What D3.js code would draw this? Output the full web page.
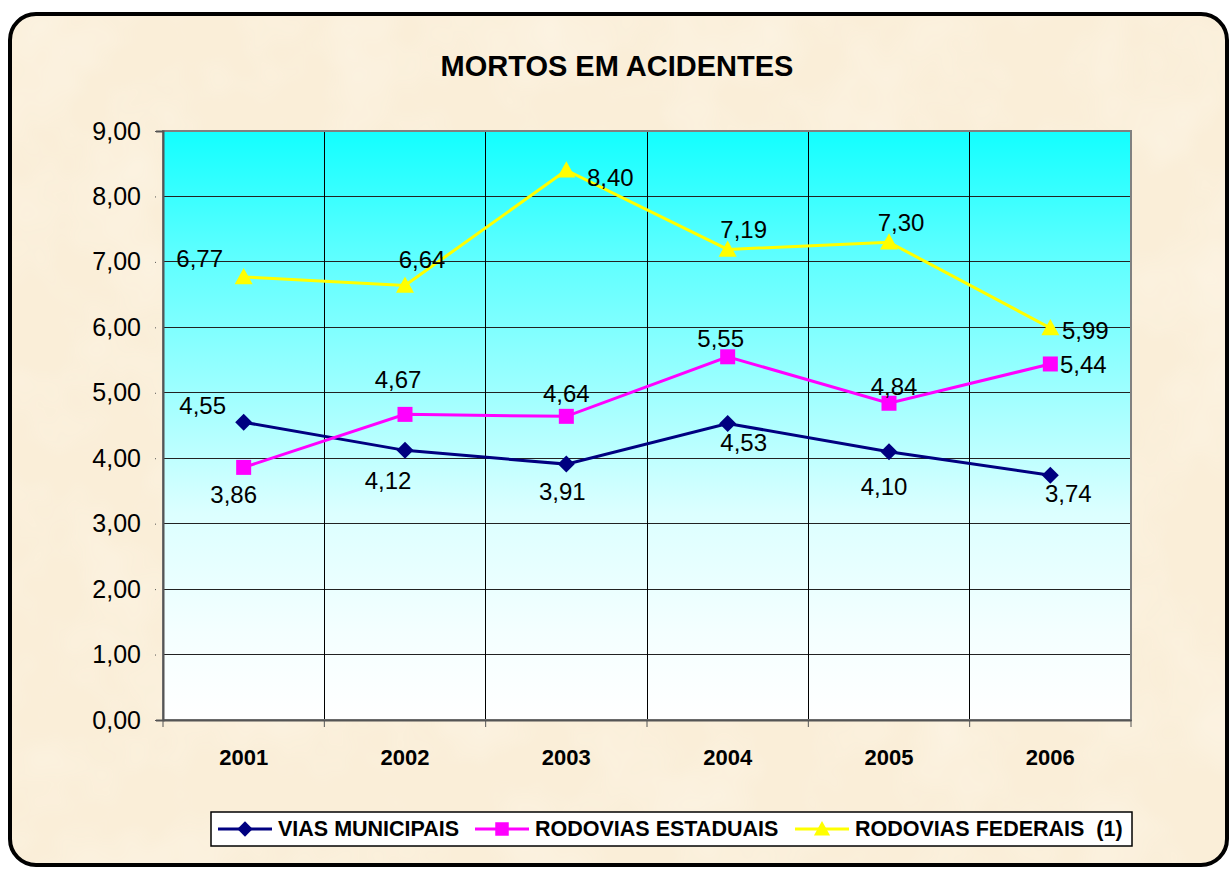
<!DOCTYPE html>
<html>
<head>
<meta charset="utf-8">
<script src="https://cdn.jsdelivr.net/npm/d3@7"></script>
<style>
  body { margin: 0; background: #fff; }
  svg { display: block; font-family: "Liberation Sans", Arial, sans-serif; }
</style>
</head>
<body>
<div id="chart"></div>
<script>
var width = 1232, height = 869

var years = ['2001', '2002', '2003', '2004', '2005', '2006']
var yTicks = [0, 1, 2, 3, 4, 5, 6, 7, 8, 9]
var seriesNames = ['VIAS MUNICIPAIS', 'RODOVIAS ESTADUAIS', 'RODOVIAS FEDERAIS  (1)']
var viasMunicipais = [4.55, 4.12, 3.91, 4.53, 4.10, 3.74]
var rodoviasEstaduais = [3.86, 4.67, 4.64, 5.55, 4.84, 5.44]
var rodoviasFederais = [6.77, 6.64, 8.40, 7.19, 7.30, 5.99]

// hand placed label offsets (like the original sheet)
var labelOffsets = [
  [[-41, -17], [-17, 30], [-4, 27], [16, 19], [-5, 35], [18, 18]],
  [[-10, 27], [-7, -35], [0, -23], [-7, -18], [5, -17], [33, 1]],
  [[-44, -18], [17, -26], [44, 7], [16, -20], [12, -20], [35, 3]]
]
var colors = ['#000080', '#FF00FF', '#FFFF00']
var markerTypes = ['diamond', 'square', 'triangle']

// marker shapes, r = half size
function markerPath(type, r){
  if (type == 'diamond') return 'M0,' + (-r) + 'L' + r + ',0L0,' + r + 'L' + (-r) + ',0Z'
  if (type == 'square') return 'M' + (-r) + ',' + (-r) + 'h' + (2*r) + 'v' + (2*r) + 'h' + (-2*r) + 'Z'
  return 'M0,' + (-r) + 'L' + r + ',' + (r*0.8) + 'L' + (-r) + ',' + (r*0.8) + 'Z'
}
var markerR = {diamond: 8.5, square: 7.5, triangle: 9}

var series = [viasMunicipais, rodoviasEstaduais, rodoviasFederais].map(function(values, i){
  return {name: seriesNames[i], values: values, color: colors[i], marker: markerTypes[i],
    offsets: labelOffsets[i]}
})

var plot = {left: 163, right: 1131, top: 131, bottom: 720}

var fmt = function(v){ return d3.format('.2f')(v).replace('.', ',') }

var svg = d3.select('#chart').append('svg')
    .attr('width', width).attr('height', height)

var defs = svg.append('defs')
var grad = defs.append('linearGradient').attr('id', 'plotGrad')
    .attr('x1', 0).attr('y1', 0).attr('x2', 0).attr('y2', 1)
var gradStops = [[0, '#12FFFF'], [0.2, '#5AFFFF'], [0.45, '#A0FFFF'], [0.65, '#DCFFFF'], [0.85, '#F4FFFF'], [1, '#FFFFFF']]
grad.selectAll('stop').data(gradStops).enter().append('stop')
    .attr('offset', function(d){ return d[0] })
    .attr('stop-color', function(d){ return d[1] })

var paper = defs.append('filter').attr('id', 'paper')
    .attr('x', 0).attr('y', 0).attr('width', '100%').attr('height', '100%')
paper.append('feTurbulence').attr('type', 'fractalNoise')
    .attr('baseFrequency', 0.012).attr('numOctaves', 3).attr('seed', 4).attr('result', 'noise')
paper.append('feColorMatrix').attr('in', 'noise').attr('type', 'matrix')
    .attr('values', '0 0 0 0 0.99  0 0 0 0 0.94  0 0 0 0 0.84  0 0 0 -0.9 0.55')
    .attr('result', 'tint')
paper.append('feComposite').attr('in', 'tint').attr('in2', 'SourceGraphic').attr('operator', 'in')

// frame
svg.append('rect')
    .attr('x', 10).attr('y', 14).attr('width', 1217).attr('height', 851)
    .attr('rx', 26).attr('fill', '#FAEED8')
svg.append('rect')
    .attr('x', 10).attr('y', 14).attr('width', 1217).attr('height', 851)
    .attr('rx', 26).attr('fill', '#F7E6C6').attr('filter', 'url(#paper)')
svg.append('rect')
    .attr('x', 10).attr('y', 14).attr('width', 1217).attr('height', 851)
    .attr('rx', 26).attr('fill', 'none').attr('stroke', '#000').attr('stroke-width', 4)

svg.append('text')
    .attr('x', 617).attr('y', 76)
    .attr('text-anchor', 'middle')
    .attr('font-size', 29).attr('font-weight', 'bold')
    .text('MORTOS EM ACIDENTES')

var x = d3.scaleBand().domain(years).range([plot.left, plot.right])
var y = d3.scaleLinear().domain([0, 9]).range([plot.bottom, plot.top])

svg.append('rect')
    .attr('x', plot.left).attr('y', plot.top)
    .attr('width', plot.right - plot.left).attr('height', plot.bottom - plot.top)
    .attr('fill', 'url(#plotGrad)')

// grid
svg.append('g').selectAll('line').data(yTicks.slice(1)).enter().append('line')
    .attr('x1', plot.left).attr('x2', plot.right)
    .attr('y1', y).attr('y2', y)
    .attr('stroke', '#222').attr('stroke-width', 1).attr('shape-rendering', 'crispEdges')
svg.append('g').selectAll('line').data(years.slice(1)).enter().append('line')
    .attr('x1', function(d){ return x(d) }).attr('x2', function(d){ return x(d) })
    .attr('y1', plot.top).attr('y2', plot.bottom)
    .attr('stroke', '#000').attr('stroke-width', 1).attr('shape-rendering', 'crispEdges')

svg.append('rect')
    .attr('x', plot.left).attr('y', plot.top)
    .attr('width', plot.right - plot.left).attr('height', plot.bottom - plot.top)
    .attr('fill', 'none').attr('stroke', '#808080').attr('stroke-width', 2)

// axes
var yAxis = d3.axisLeft(y).tickValues(yTicks).tickFormat(fmt).tickSize(7).tickPadding(15)
var yG = svg.append('g').attr('transform', 'translate(' + plot.left + ',0)').call(yAxis)
yG.select('.domain').attr('stroke', '#555').attr('stroke-width', 2)
yG.selectAll('.tick line').attr('stroke', '#555')
yG.selectAll('.tick line').attr('x1', -8)
yG.selectAll('text').attr('font-size', 25).attr('fill', '#000')
    .attr('font-family', '"Liberation Sans", Arial, sans-serif')

var xAxis = d3.axisBottom(x).tickSize(0).tickPadding(29)
var xG = svg.append('g').attr('transform', 'translate(0,' + plot.bottom + ')').call(xAxis)
xG.select('.domain').attr('stroke', '#555').attr('stroke-width', 2)
xG.selectAll('text').attr('font-size', 22).attr('font-weight', 'bold').attr('fill', '#000')
    .attr('font-family', '"Liberation Sans", Arial, sans-serif')
svg.append('g').selectAll('line').data(years.concat(['end'])).enter().append('line')
    .attr('x1', function(d, i){ return plot.left + i * x.bandwidth() })
    .attr('x2', function(d, i){ return plot.left + i * x.bandwidth() })
    .attr('y1', plot.bottom).attr('y2', plot.bottom + 7)
    .attr('stroke', '#555').attr('stroke-width', 1)

// series
var line = d3.line()
    .x(function(d, i){ return x(years[i]) + x.bandwidth() / 2 })
    .y(function(d){ return y(d) })

var sG = svg.append('g').selectAll('g').data(series).enter().append('g')

sG.append('path')
    .attr('d', function(d){ return line(d.values) })
    .attr('fill', 'none').attr('stroke', function(d){ return d.color }).attr('stroke-width', 3)

sG.each(function(s){
  var g = d3.select(this)
  g.selectAll('path.mk').data(s.values).enter().append('path')
      .attr('class', 'mk')
      .attr('d', markerPath(s.marker, markerR[s.marker]))
      .attr('transform', function(d, i){
        return 'translate(' + (x(years[i]) + x.bandwidth() / 2) + ',' + y(d) + ')'
      })
      .attr('fill', s.color)
  g.selectAll('text').data(s.values).enter().append('text')
      .attr('x', function(d, i){ return x(years[i]) + x.bandwidth() / 2 + s.offsets[i][0] })
      .attr('y', function(d, i){ return y(d) + s.offsets[i][1] })
      .attr('text-anchor', 'middle').attr('dominant-baseline', 'central')
      .attr('font-size', 24).attr('fill', '#000')
      .text(fmt)
})

// legend
var legend = svg.append('g')
legend.append('rect')
    .attr('x', 211).attr('y', 812).attr('width', 921).attr('height', 34)
    .attr('fill', '#fff').attr('stroke', '#000').attr('stroke-width', 1.5)
var legendX = [218, 475, 795]
var lItem = legend.selectAll('g.item').data(series).enter().append('g')
    .attr('transform', function(d, i){ return 'translate(' + legendX[i] + ',829)' })
lItem.append('line').attr('x1', 0).attr('x2', 54)
    .attr('stroke', function(d){ return d.color }).attr('stroke-width', 3)
lItem.append('path')
    .attr('d', function(d){ return markerPath(d.marker, markerR[d.marker] * 0.9) })
    .attr('transform', 'translate(27,0)')
    .attr('fill', function(d){ return d.color })
lItem.append('text')
    .attr('x', 60).attr('dominant-baseline', 'central')
    .attr('font-size', 21.5).attr('font-weight', 'bold')
    .style('white-space', 'pre')
    .text(function(d){ return d.name })
</script>
</body>
</html>
